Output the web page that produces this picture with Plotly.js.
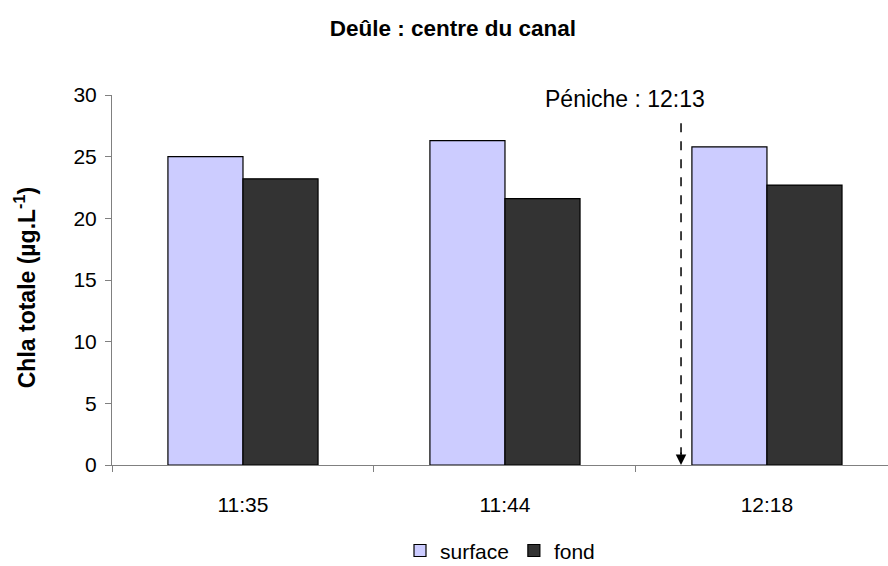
<!DOCTYPE html>
<html>
<head>
<meta charset="utf-8">
<script src="https://cdn.plot.ly/plotly-3.0.1.min.js"></script>
<style>html,body{margin:0;padding:0;background:#fff;}#chart{width:888px;height:566px;}</style>
</head>
<body>
<div id="chart"></div>
<script>
const categories = ["11:35", "11:44", "12:18"];
const surfaceValues = [25.0, 26.3, 25.8];
const fondValues = [23.2, 21.6, 22.7];
const yTicks = [0, 5, 10, 15, 20, 25, 30];
const eventLabel = "Péniche : 12:13";
const eventPos = 1.672;   // position between 11:44 and 12:18 categories
const eventTop = 27.7;

const font = "Liberation Sans, Arial, sans-serif";

const traces = [
  {type: "bar", name: "surface", x: categories, y: surfaceValues,
   marker: {color: "#ccccff", line: {color: "#000", width: 1.2}}},
  {type: "bar", name: "fond", x: categories, y: fondValues,
   marker: {color: "#333333", line: {color: "#000", width: 1.2}}}
];

const layout = {
  width: 888, height: 566,
  margin: {l: 112, r: 0, t: 95, b: 101, autoexpand: false},
  paper_bgcolor: "#fff", plot_bgcolor: "#fff",
  font: {family: font, size: 21, color: "#000"},
  title: {text: "<b>Deûle : centre du canal</b>", font: {family: font, size: 22.5, color: "#000"},
          x: 0.51, xref: "container", y: 0.95, yanchor: "middle"},
  barmode: "group", bargap: 0.427, bargroupgap: 0,
  showlegend: true,
  legend: {orientation: "h", x: 0.5, xanchor: "center", y: -0.232, yanchor: "middle",
           font: {family: font, size: 21}, itemwidth: 30, tracegroupgap: 0,
           borderwidth: 0},
  xaxis: {type: "category", range: [-0.5, 2.462], tickson: "boundaries", automargin: false,
          ticks: "outside", ticklen: 6, tickcolor: "#808080", tickwidth: 1,
          showline: true, linecolor: "#808080", linewidth: 1, showgrid: false,
          tickfont: {family: font, size: 21}, ticklabelstandoff: 21, zeroline: false},
  yaxis: {range: [0, 30], tickvals: yTicks, ticks: "outside", ticklen: 6, automargin: false,
          tickcolor: "#808080", showline: true, linecolor: "#808080", linewidth: 1,
          showgrid: false, zeroline: false, tickfont: {family: font, size: 21},
          ticklabelstandoff: 4},
  shapes: [
    {type: "line", xref: "x", yref: "y", x0: eventPos, x1: eventPos, y0: eventTop, y1: 0.9,
     line: {color: "#000", width: 1.5, dash: "dash"}}
  ],
  annotations: [
    {xref: "paper", yref: "paper", x: -0.111, y: 0.48, text: "<b>Chla totale (µg.L<sup>-1</sup>)</b>",
     textangle: -90, showarrow: false, font: {family: font, size: 23, color: "#000"},
     xanchor: "center", yanchor: "middle"},
    {xref: "x", yref: "y", x: eventPos, y: 0, ax: 0, ay: -14, text: "", showarrow: true,
     arrowhead: 2, arrowsize: 1.4, arrowwidth: 1.5, arrowcolor: "#000", standoff: 0},
    {xref: "x", yref: "paper", x: 1.458, y: 0.989, text: eventLabel, showarrow: false,
     font: {family: font, size: 23, color: "#000"}, yanchor: "middle"}
  ]
};

Plotly.newPlot("chart", traces, layout, {staticPlot: true, displayModeBar: false});
</script>
</body>
</html>
